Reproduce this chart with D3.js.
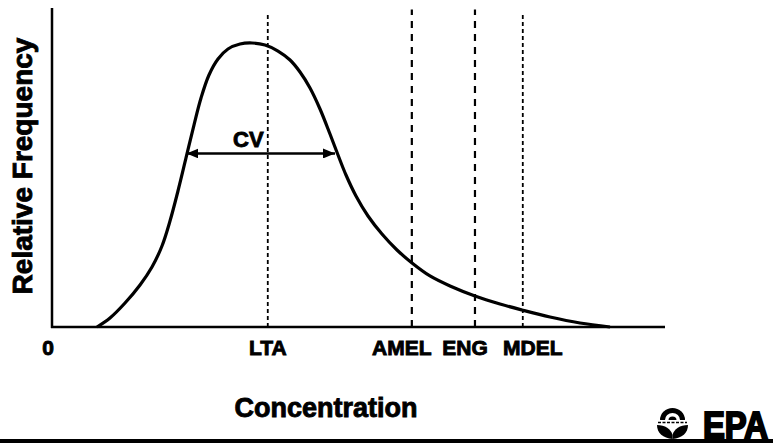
<!DOCTYPE html>
<meta charset="utf-8">

<!-- Load d3.js -->
<script src="https://d3js.org/d3.v7.min.js"></script>

<style>
  body { margin: 0; background: #fff; }
  text { font-family: "Liberation Sans", Arial, sans-serif; font-weight: bold; fill: #000; stroke: #000; stroke-width: 0.9; }
</style>

<!-- Create a div where the graph will take place -->
<div id="my_dataviz"></div>

<script>
// distribution curve (concentration, relative frequency)
var curveX = [7.34, 9.46, 11.91, 14.36, 16.31, 17.94, 19.25, 20.55, 21.86, 23.16, 24.31, 25.61, 27.08, 28.71, 30.67, 32.63, 34.75, 36.87, 38.83,
              40.46, 42.09, 43.72, 45.35, 46.66, 47.96, 49.59, 51.55, 53.83, 56.28, 58.73, 61.66, 64.93, 69.00, 73.08, 76.67, 81.24, 86.13, 91.03]
var curveY = [0, 2.82, 7.52, 13.17, 18.81, 25.39, 33.23, 42.63, 52.98, 63.32, 71.79, 79.00, 84.01, 87.15, 88.71, 89.03, 88.40, 86.52, 83.70,
              79.94, 74.92, 68.34, 60.50, 53.92, 47.65, 41.07, 34.80, 29.15, 24.14, 20.06, 15.99, 12.85, 9.72, 7.21, 5.33, 3.13, 1.25, 0]

// reference lines
var limitNames = ["LTA", "AMEL", "ENG", "MDEL"]
var limitX     = [35.2, 58.7, 69.0, 76.8]
var limitTop   = [98, 99.5, 99.5, 98]

// CV arrow (from / to on the curve, at this height)
var cvFrom = 21.94, cvTo = 46.17, cvY = 54.4

// set the dimensions and margins of the graph
var W = 773, H = 448
var margin = { top: 8, right: 108, bottom: 121, left: 52 },
    width = W - margin.left - margin.right,
    height = H - margin.top - margin.bottom;

var svg = d3.select("#my_dataviz")
    .append("svg")
    .attr("width", W)
    .attr("height", H)

var g = svg.append("g")
    .attr("transform", "translate(" + margin.left + "," + margin.top + ")");

var x = d3.scaleLinear().domain([0, 100]).range([0, width])
var y = d3.scaleLinear().domain([0, 100]).range([height, 0])

// dashed limit lines
var dashes = ["4,3", "7,6", "7,6", "4,3"]
var widths = [1.8, 2.2, 2.2, 1.8]
g.selectAll(".limit")
    .data(limitNames)
    .enter().append("line")
    .attr("class", "limit")
    .attr("x1", function (d, i) { return x(limitX[i]); })
    .attr("x2", function (d, i) { return x(limitX[i]); })
    .attr("y1", y(0))
    .attr("y2", function (d, i) { return y(limitTop[i]); })
    .attr("stroke", "#000")
    .attr("stroke-width", function (d, i) { return widths[i]; })
    .attr("stroke-dasharray", function (d, i) { return dashes[i]; })

// the curve
var pts = curveX.map(function (v, i) { return [v, curveY[i]]; })
var line = d3.line()
    .x(function (d) { return x(d[0]); })
    .y(function (d) { return y(d[1]); })
    .curve(d3.curveCatmullRom.alpha(0.5))

g.append("path")
    .datum(pts)
    .attr("d", line)
    .attr("fill", "none")
    .attr("stroke", "#000")
    .attr("stroke-width", 3.2)

// axes (no ticks, just the two lines)
g.append("line")
    .attr("x1", x(0)).attr("x2", x(0))
    .attr("y1", y(0) + 1).attr("y2", y(100))
    .attr("stroke", "#000").attr("stroke-width", 2.5)
g.append("line")
    .attr("x1", x(0) - 1).attr("x2", x(100))
    .attr("y1", y(0)).attr("y2", y(0))
    .attr("stroke", "#000").attr("stroke-width", 2.5)

// CV arrow
var defs = svg.append("defs")
defs.append("marker")
    .attr("id", "head")
    .attr("viewBox", "0 0 12 10")
    .attr("refX", 12).attr("refY", 5)
    .attr("markerWidth", 12).attr("markerHeight", 10)
    .attr("markerUnits", "userSpaceOnUse")
    .attr("orient", "auto-start-reverse")
    .append("path")
    .attr("d", "M0,0 L12,5 L0,10 Z")
    .attr("fill", "#000")

g.append("line")
    .attr("x1", x(cvFrom)).attr("x2", x(cvTo))
    .attr("y1", y(cvY)).attr("y2", y(cvY))
    .attr("stroke", "#000").attr("stroke-width", 2.5)
    .attr("marker-start", "url(#head)")
    .attr("marker-end", "url(#head)")

g.append("text")
    .attr("x", 233 - margin.left)
    .attr("y", y(cvY) - 6)
    .attr("font-size", 22)
    .text("CV")

// labels under the axis
var labelNames = ["0"].concat(limitNames)
var labelX = [0].concat(limitX)
var labelShift = [-4, 0, -10, -10, 10]
g.selectAll(".lab")
    .data(labelNames)
    .enter().append("text")
    .attr("class", "lab")
    .attr("x", function (d, i) { return x(labelX[i]) + labelShift[i]; })
    .attr("y", y(0) + 28)
    .attr("text-anchor", "middle")
    .attr("font-size", 21)
    .text(function (d) { return d; })

// axis titles
svg.append("text")
    .attr("transform", "translate(32,166) rotate(-90)")
    .attr("text-anchor", "middle")
    .attr("font-size", 28)
    .text("Relative Frequency")

svg.append("text")
    .attr("x", 326)
    .attr("y", 417)
    .attr("text-anchor", "middle")
    .attr("font-size", 27)
    .text("Concentration")

// bottom bar
svg.append("rect")
    .attr("x", 0).attr("y", 439)
    .attr("width", W).attr("height", 4)
    .attr("fill", "#000")

// EPA logo
var logo = svg.append("g")
logo.append("path")
    .attr("d", "M660,420 A12.5,12 0 0 1 685,420 Z")
    .attr("fill", "#000")
logo.append("path")
    .attr("d", "M665,420 A7.5,7 0 0 1 680,420 Z")
    .attr("fill", "#fff")
logo.append("path")
    .attr("d", "M668.5,420 A4,3.5 0 0 1 676.5,420 Z")
    .attr("fill", "#000")
logo.append("line")
    .attr("x1", 658).attr("x2", 687)
    .attr("y1", 422.5).attr("y2", 422.5)
    .attr("stroke", "#000").attr("stroke-width", 1.5)
    .attr("stroke-dasharray", "3,1.5")
// leaves
logo.append("path")
    .attr("d", "M672.5,439 C663,438 657,433 657,425 C665,425 671,429 672.5,435 Z")
    .attr("fill", "#000")
logo.append("path")
    .attr("d", "M672.5,439 C682,438 688,433 688,425 C680,425 674,429 672.5,435 Z")
    .attr("fill", "#000")

logo.append("text")
    .attr("x", 703)
    .attr("y", 438)
    .attr("font-size", 36)
    .attr("textLength", 65)
    .attr("lengthAdjust", "spacingAndGlyphs")
    .style("stroke-width", 2)
    .text("EPA")
</script>
